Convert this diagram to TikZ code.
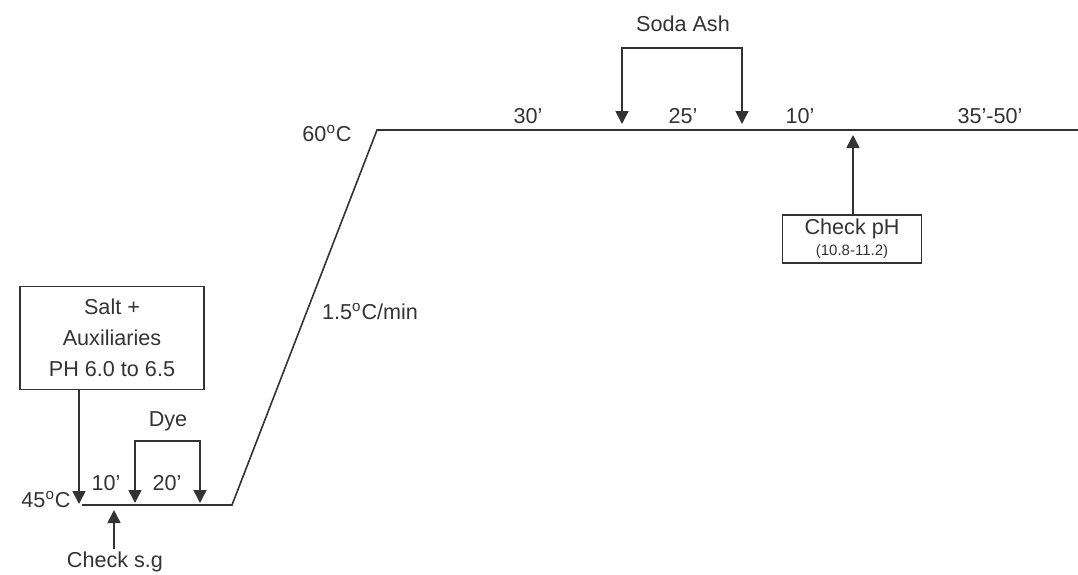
\documentclass[tikz,border=0pt]{standalone}
\usepackage{fontspec}
\setmainfont{Liberation Sans}
\usepackage{tikz}
\usetikzlibrary{arrows.meta,positioning,calc}

\begin{document}
\begin{tikzpicture}[x=0.5pt, y=-0.5pt, line width=0.8pt, color=black!80,
    tip/.style={-{Triangle[width=6.5pt,length=6.5pt]}},
    bracket/.style={{Triangle[width=6.5pt,length=6.5pt]}-{Triangle[width=6.5pt,length=6.5pt]}},
    lbl/.style={font=\fontsize{10.8}{12.5}\selectfont, inner sep=1pt},
    box/.style={draw, align=center, inner sep=0pt, font=\fontsize{10.8}{15.5}\selectfont}]
    \useasboundingbox (0,0) rectangle (1078,574);

    % Temperature profile
    \coordinate (s0) at (82,505);
    \coordinate (s1) at (232,505);
    \coordinate (t0) at (377,130);
    \coordinate (t1) at (1078,130);
    \draw (s0) -- (s1) -- (t0) -- (t1);
    \node[lbl] (low) at (46,500) {45\textsuperscript{o}C};
    \node[lbl] (high) at (327,134) {60\textsuperscript{o}C};
    \node[lbl] (rate) at (370,312) {1.5\textsuperscript{o}C/min};

    % Salt + auxiliaries
    \node[box, minimum width=92pt, minimum height=51.5pt] (salt) at (112,338)
        {Salt +\\Auxiliaries\\PH 6.0 to 6.5};
    \coordinate (saltin) at (79,504);
    \draw[tip] (salt.south -| saltin) -- (saltin);

    % Dye
    \node[lbl] (dye) at (168,421) {Dye};
    \coordinate (dye1) at (135,503);
    \coordinate (dye2) at (200,503);
    \coordinate (dyetop) at (168,441);
    \draw[bracket] (dye1) |- (dyetop) -| (dye2);
    \node[lbl] (m10) at (106,483) {10’};
    \node[lbl] (m20) at (167,483) {20’};

    % Check s.g
    \node[lbl] (checksg) at (115,562) {Check s.g};
    \coordinate (sgpt) at (114,510);
    \draw[tip] (checksg.north -| sgpt) -- (sgpt);

    % Soda ash
    \node[lbl] (soda) at (683,24) {Soda Ash};
    \coordinate (soda1) at (622,124);
    \coordinate (soda2) at (742,124);
    \coordinate (sodatop) at (683,48);
    \draw[bracket] (soda1) |- (sodatop) -| (soda2);
    \node[lbl] (m30) at (528,116) {30’};
    \node[lbl] (m25) at (683,116) {25’};
    \node[lbl] (m10b) at (800,116) {10’};
    \node[lbl] (m35) at (990,116) {35’-50’};

    % Check pH
    \node[box, minimum width=69.5pt, minimum height=24pt] (ph) at (852,239)
        {Check pH\\[-5pt]{\fontsize{7.5}{8}\selectfont (10.8-11.2)}};
    \coordinate (phpt) at (853,135);
    \draw[tip] (ph.north -| phpt) -- (phpt);
\end{tikzpicture}
\end{document}
